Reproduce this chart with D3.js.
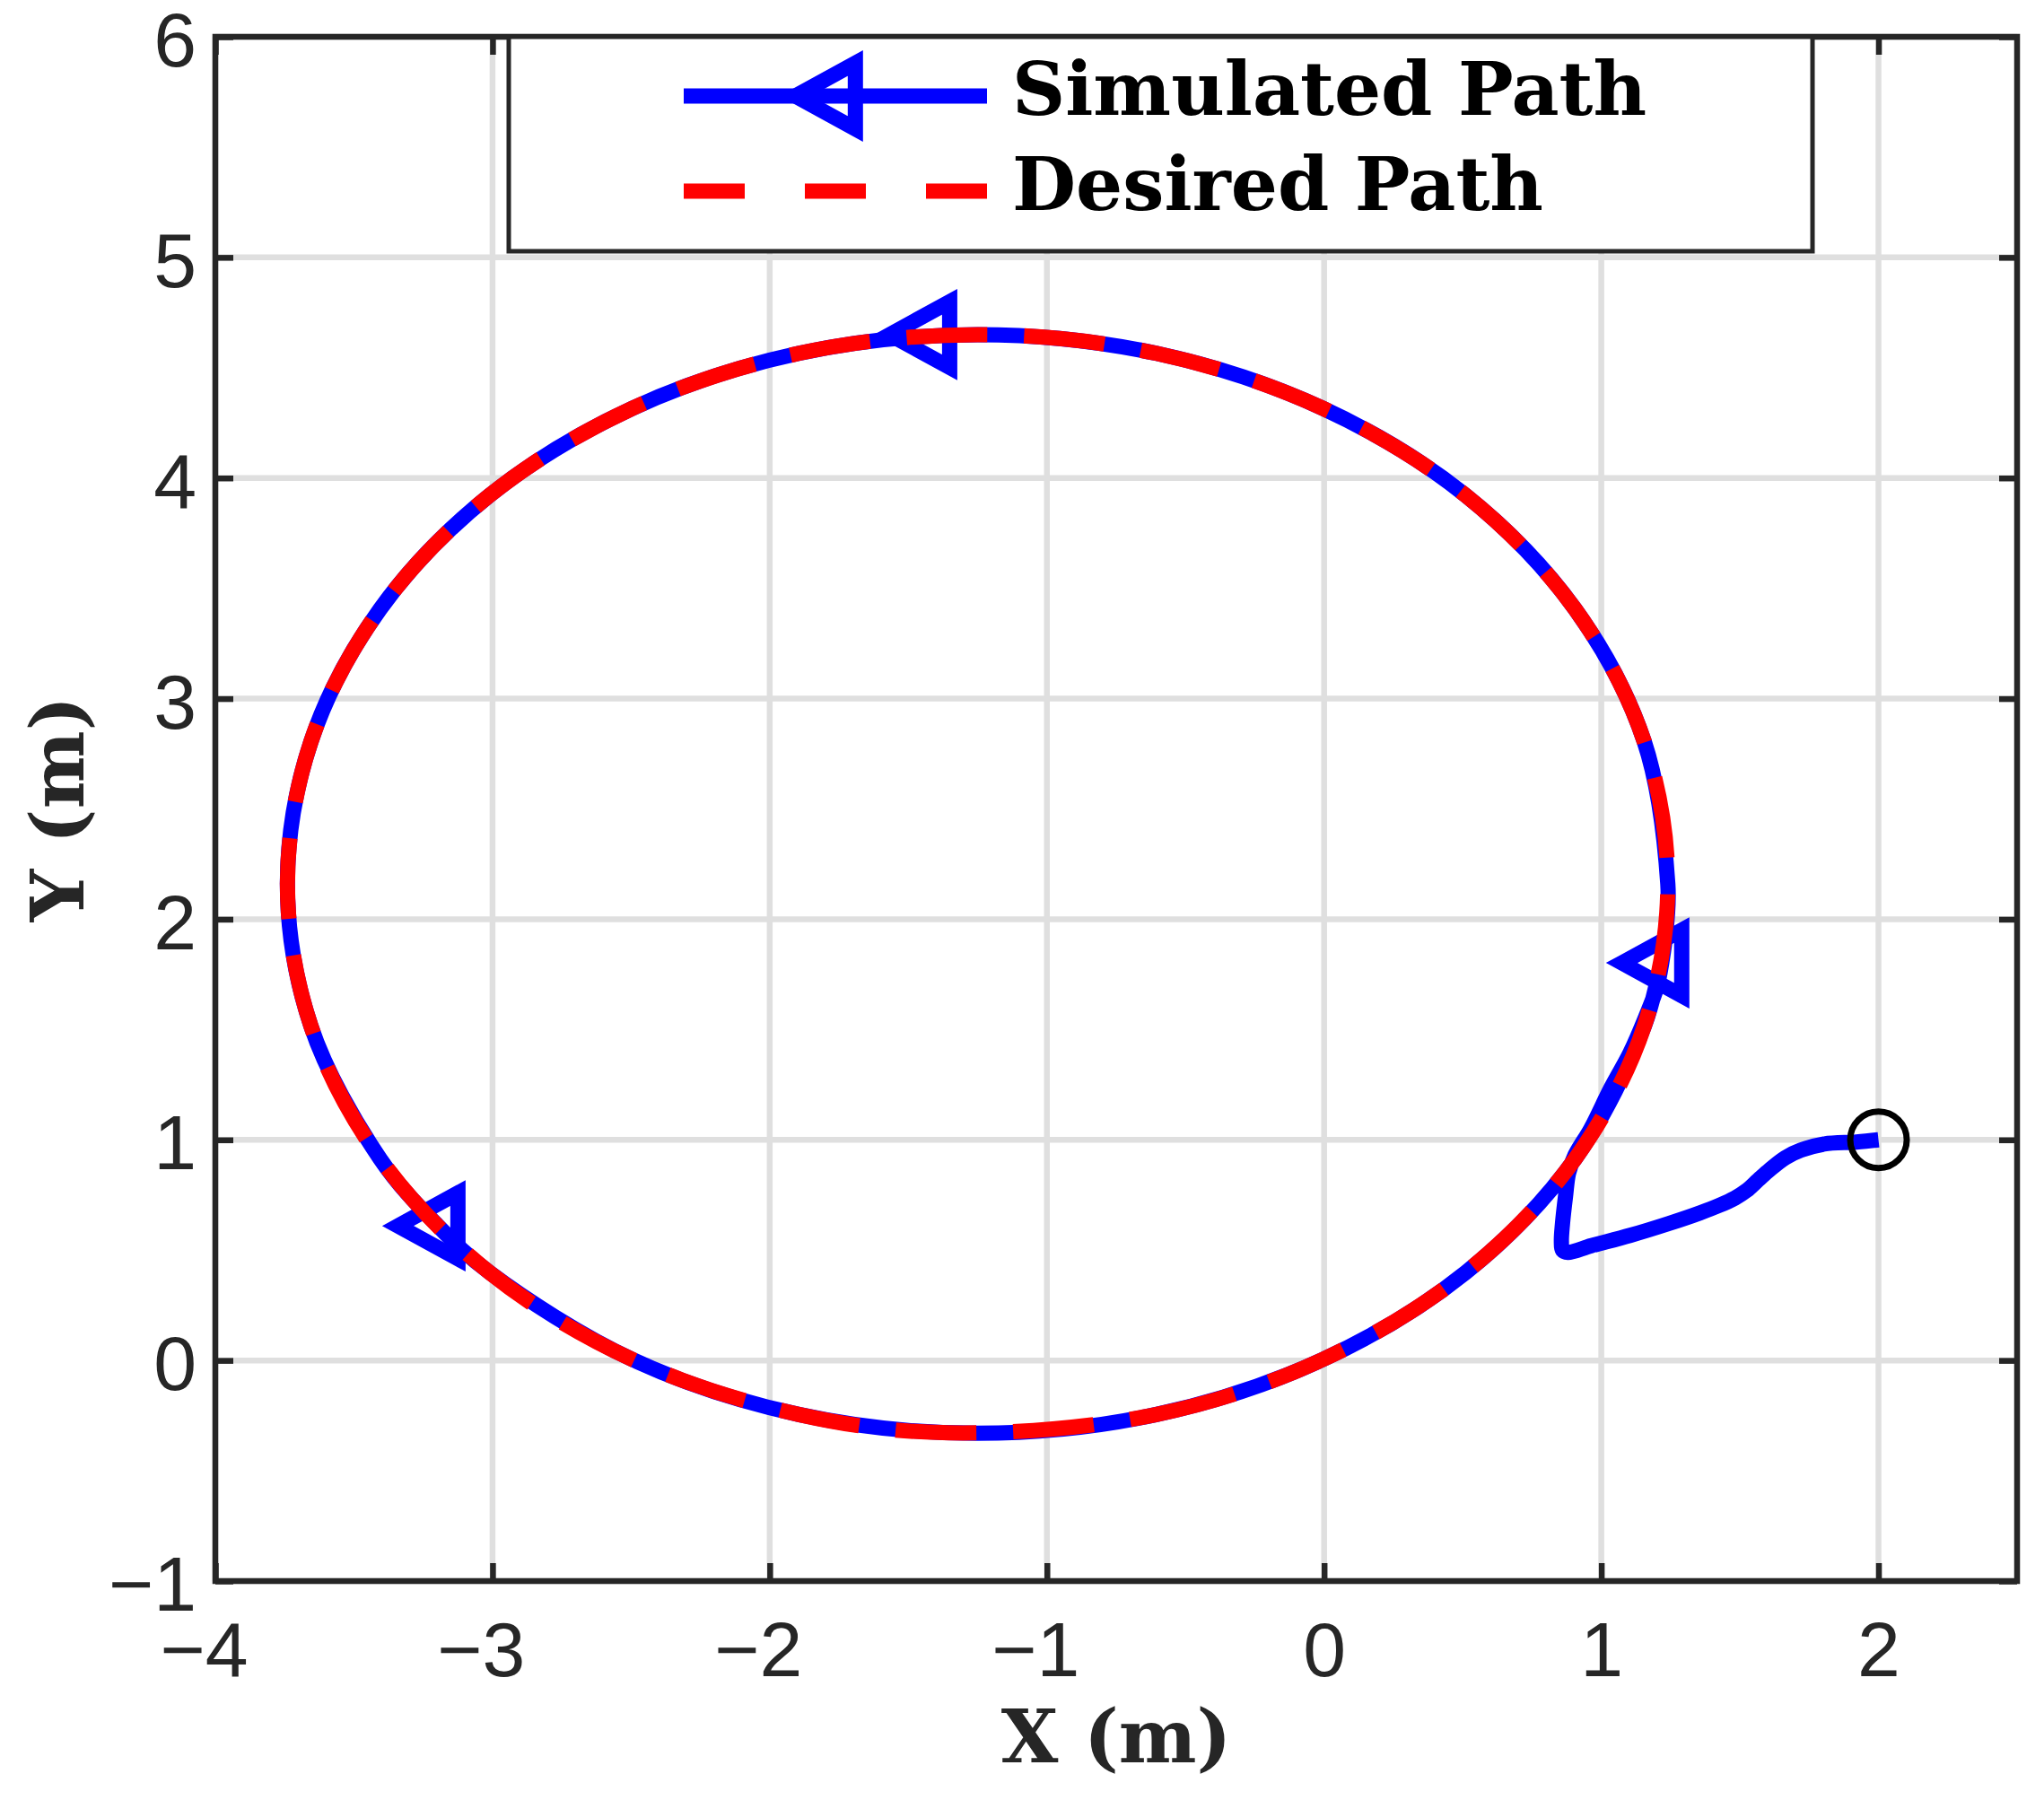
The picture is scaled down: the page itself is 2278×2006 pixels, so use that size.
<!DOCTYPE html>
<html>
<head>
<meta charset="utf-8">
<script src="https://cdn.jsdelivr.net/npm/d3@7"></script>
<style>
    body { margin: 0; background: #fff; }
</style>
</head>
<body>
<div id="chart"></div>
<script>

// ---- values ----
const xTicks = [-4, -3, -2, -1, 0, 1, 2];
const yTicks = [-1, 0, 1, 2, 3, 4, 5, 6];

// desired path: closed loop, counter-clockwise, starts near the bottom
const desiredX = [-1.355, -0.605, -0.005, 0.511, 0.906, 1.155, 1.240, 1.155, 0.906, 0.511, -0.005, -0.605,
    -1.250, -1.895, -2.495, -3.011, -3.406, -3.655, -3.740, -3.655, -3.406, -3.011, -2.495, -1.895];
const desiredY = [-0.328, -0.245, 0.004, 0.399, 0.915, 1.515, 2.160, 2.805, 3.405, 3.921, 4.316, 4.565,
    4.650, 4.565, 4.316, 3.921, 3.405, 2.805, 2.160, 1.515, 0.915, 0.399, 0.004, -0.245];

// simulated path: transient from the start point, then one loop round
const simX = [2.000, 1.920, 1.804, 1.720, 1.664, 1.608, 1.566, 1.524, 1.482, 1.426, 1.356, 1.244, 1.104,
    0.964, 0.880, 0.860, 0.856, 0.860, 0.871, 0.882, 0.905, 0.962, 1.034, 1.104, 1.160, 1.200, 1.218, 1.236,
    1.240, 1.155, 0.906, 0.511, -0.005, -0.605, -1.250, -1.895, -2.495, -3.011, -3.406, -3.655, -3.740,
    -3.655, -3.406, -3.197, -3.011, -2.495, -1.895, -1.250, -0.605, -0.005, 0.511, 0.906, 1.155, 1.215];
const simY = [1.000, 0.990, 0.981, 0.953, 0.919, 0.865, 0.818, 0.770, 0.736, 0.703, 0.669, 0.621, 0.567,
    0.520, 0.490, 0.500, 0.540, 0.620, 0.745, 0.850, 0.930, 1.050, 1.233, 1.395, 1.557, 1.690, 1.802, 1.980,
    2.160, 2.805, 3.405, 3.921, 4.316, 4.565, 4.650, 4.565, 4.316, 3.921, 3.405, 2.805, 2.160,
    1.515, 0.915, 0.610, 0.399, 0.004, -0.245, -0.330, -0.245, 0.004, 0.399, 0.915, 1.515, 1.800];

// '<' markers on the simulated path
const markerX = [1.218, -1.423, -3.197];
const markerY = [1.802, 4.650, 0.610];

// start point ('o')
const startX = [2];
const startY = [1];

const legendLabels = ["Simulated Path", "Desired Path"];
const axisTitles = ["X (m)", "Y (m)"];


class PathVis {

    constructor(_parentElement) {
        this.parentElement = _parentElement;
        this.initVis();
    }

    /*
     * SVG area, scales, grid, axes
     */
    initVis() {
        let vis = this;

        vis.margin = { top: 41, right: 30, bottom: 244, left: 240 };
        vis.width = 2008;
        vis.height = 1721;

        vis.axisColor = "#262626";
        vis.lineW = 17;

        vis.root = d3.select("#" + vis.parentElement).append("svg")
            .attr("width", 2278)
            .attr("height", 2006)
            .style("background", "#fff");

        vis.svg = vis.root.append("g")
            .attr("transform", "translate(" + vis.margin.left + "," + vis.margin.top + ")");

        vis.x = d3.scaleLinear().domain([-4, 2.5]).range([0, vis.width]);
        vis.y = d3.scaleLinear().domain([-1, 6]).range([vis.height, 0]);

        // grid lines
        vis.svg.append("g").selectAll(".vgrid")
            .data(xTicks)
            .enter().append("line").attr("class", "vgrid")
            .attr("x1", d => vis.x(d)).attr("x2", d => vis.x(d))
            .attr("y1", 0).attr("y2", vis.height)
            .attr("stroke", "#dfdfdf").attr("stroke-width", 6.5);

        vis.svg.append("g").selectAll(".hgrid")
            .data(yTicks)
            .enter().append("line").attr("class", "hgrid")
            .attr("y1", d => vis.y(d)).attr("y2", d => vis.y(d))
            .attr("x1", 0).attr("x2", vis.width)
            .attr("stroke", "#dfdfdf").attr("stroke-width", 6.5);

        // axes (ticks point inwards, on all four sides)
        let fmt = d3.format("d");
        vis.xAxis = d3.axisBottom(vis.x).tickValues(xTicks).tickFormat(fmt)
            .tickSize(-20).tickSizeOuter(0).tickPadding(45);
        vis.yAxis = d3.axisLeft(vis.y).tickValues(yTicks).tickFormat(fmt)
            .tickSize(-20).tickSizeOuter(0).tickPadding(21);
        vis.xAxisTop = d3.axisTop(vis.x).tickValues(xTicks).tickSize(-20).tickSizeOuter(0).tickFormat("");
        vis.yAxisRight = d3.axisRight(vis.y).tickValues(yTicks).tickSize(-20).tickSizeOuter(0).tickFormat("");

        vis.svg.append("g").attr("class", "x-axis axis")
            .attr("transform", "translate(0," + vis.height + ")").call(vis.xAxis);
        vis.svg.append("g").attr("class", "y-axis axis").call(vis.yAxis);
        vis.svg.append("g").attr("class", "axis").call(vis.xAxisTop);
        vis.svg.append("g").attr("class", "axis")
            .attr("transform", "translate(" + vis.width + ",0)").call(vis.yAxisRight);

        vis.svg.selectAll(".axis .domain").remove();
        vis.svg.selectAll(".axis .tick line")
            .attr("stroke", vis.axisColor).attr("stroke-width", 6.5);
        vis.svg.selectAll(".axis text")
            .attr("fill", vis.axisColor)
            .attr("font-family", "'Liberation Sans', Arial, sans-serif")
            .attr("font-size", 86);

        // negative x labels: MATLAB keeps the digit near the tick, minus hangs left
        vis.svg.selectAll(".x-axis .tick text")
            .attr("text-anchor", d => d < 0 ? "end" : "middle")
            .attr("x", d => d < 0 ? 36 : 0);
        vis.svg.selectAll(".y-axis .tick text").attr("dy", "0.38em");

        // box
        vis.svg.append("rect")
            .attr("x", 0).attr("y", 0)
            .attr("width", vis.width).attr("height", vis.height)
            .attr("fill", "none")
            .attr("stroke", vis.axisColor).attr("stroke-width", 6.5);

        // axis titles
        vis.svg.append("text")
            .attr("x", vis.width / 2).attr("y", 1964 - vis.margin.top)
            .attr("text-anchor", "middle")
            .attr("font-family", "'DejaVu Serif', serif").attr("font-weight", "bold")
            .attr("font-size", 82).attr("fill", vis.axisColor)
            .text(axisTitles[0]);

        vis.svg.append("text")
            .attr("transform", "translate(" + (93 - vis.margin.left) + "," + vis.height / 2 + ") rotate(-90)")
            .attr("text-anchor", "middle")
            .attr("font-family", "'DejaVu Serif', serif").attr("font-weight", "bold")
            .attr("font-size", 82).attr("fill", vis.axisColor)
            .text(axisTitles[1]);

        vis.svg.append("clipPath").attr("id", "plotClip")
            .append("rect").attr("width", vis.width).attr("height", vis.height);

        vis.plot = vis.svg.append("g").attr("clip-path", "url(#plotClip)");

        // triangle marker pointing left, data point sits near its centroid
        vis.triangle = "M-44.5,0L22.3,-36.6L22.3,36.6Z";

        vis.updateVis();
    }

    /*
     * Draw the paths, markers and legend
     */
    updateVis() {
        let vis = this;

        let simData = simX.map((d, i) => ({ x: d, y: simY[i] }));
        let desiredData = desiredX.map((d, i) => ({ x: d, y: desiredY[i] }));
        let markerData = markerX.map((d, i) => ({ x: d, y: markerY[i] }));

        let simLine = d3.line()
            .x(d => vis.x(d.x)).y(d => vis.y(d.y))
            .curve(d3.curveCatmullRom.alpha(0.5));

        let loopLine = d3.line()
            .x(d => vis.x(d.x)).y(d => vis.y(d.y))
            .curve(d3.curveCatmullRomClosed.alpha(0.5));

        vis.plot.append("path")
            .datum(simData)
            .attr("d", simLine)
            .attr("fill", "none")
            .attr("stroke", "#0000ff")
            .attr("stroke-width", vis.lineW)
            .attr("stroke-linejoin", "round");

        vis.plot.selectAll(".marker")
            .data(markerData)
            .enter().append("path").attr("class", "marker")
            .attr("transform", d => "translate(" + vis.x(d.x) + "," + vis.y(d.y) + ")")
            .attr("d", vis.triangle)
            .attr("fill", "none")
            .attr("stroke", "#0000ff")
            .attr("stroke-width", vis.lineW)
            .attr("stroke-linejoin", "miter");

        vis.plot.append("path")
            .datum(desiredData)
            .attr("d", loopLine)
            .attr("fill", "none")
            .attr("stroke", "#ff0000")
            .attr("stroke-width", vis.lineW)
            .attr("stroke-dasharray", "90,41");

        vis.plot.selectAll(".start")
            .data(startX)
            .enter().append("circle").attr("class", "start")
            .attr("cx", d => vis.x(d))
            .attr("cy", (d, i) => vis.y(startY[i]))
            .attr("r", 31.5)
            .attr("fill", "none")
            .attr("stroke", "#000")
            .attr("stroke-width", 7);

        // legend
        let lx = 567 - vis.margin.left, ly = 0;
        let legend = vis.svg.append("g").attr("transform", "translate(" + lx + "," + ly + ")");

        legend.append("rect")
            .attr("x", 0).attr("y", 0)
            .attr("width", 1453).attr("height", 239)
            .attr("fill", "#fff")
            .attr("stroke", vis.axisColor).attr("stroke-width", 5);

        let rowY = [107 - vis.margin.top, 213 - vis.margin.top];

        legend.append("line")
            .attr("x1", 195).attr("x2", 533)
            .attr("y1", rowY[0]).attr("y2", rowY[0])
            .attr("stroke", "#0000ff").attr("stroke-width", vis.lineW);
        legend.append("path")
            .attr("transform", "translate(364," + rowY[0] + ")")
            .attr("d", vis.triangle)
            .attr("fill", "none")
            .attr("stroke", "#0000ff").attr("stroke-width", vis.lineW)
            .attr("stroke-linejoin", "miter");

        legend.append("line")
            .attr("x1", 195).attr("x2", 533)
            .attr("y1", rowY[1]).attr("y2", rowY[1])
            .attr("stroke", "#ff0000").attr("stroke-width", vis.lineW)
            .attr("stroke-dasharray", "68,67");

        legend.selectAll(".legend-label")
            .data(legendLabels)
            .enter().append("text").attr("class", "legend-label")
            .attr("x", 561)
            .attr("y", (d, i) => rowY[i] + 21)
            .attr("font-family", "'DejaVu Serif', serif").attr("font-weight", "bold")
            .attr("font-size", 82).attr("fill", "#000")
            .text(d => d);
    }
}

let pathVis = new PathVis("chart");

</script>
</body>
</html>
